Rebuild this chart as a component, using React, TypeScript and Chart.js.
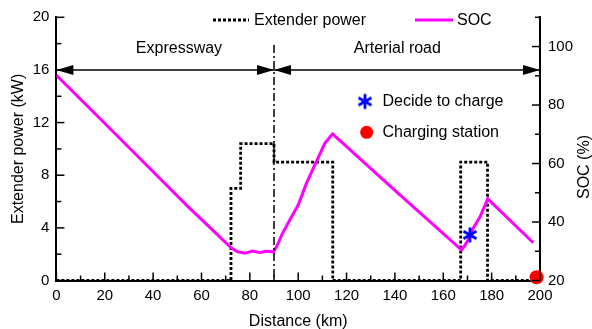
import React, { useEffect, useRef } from 'react';
import { Chart, registerables } from 'chart.js';

Chart.register(...registerables);

// ---- data ----
const extenderDistance = [0, 72.2, 72.2, 76.2, 76.2, 90, 90, 114.3, 114.3, 167.2, 167.2, 178.3, 178.3, 200];
const extenderPower = [0, 0, 7, 7, 10.4, 10.4, 9, 9, 0, 0, 9, 9, 0, 0];

const socDistance = [0, 18, 36, 54, 72.5, 75, 78, 81, 84, 87, 89.7, 91.2, 93.2, 96.5, 100, 103.4, 106.9, 111, 114.2, 140, 167.6, 169.0, 170.4, 172.4, 175.2, 176.3, 178.4, 197.2];
const socValues = [90.2, 75.4, 60.5, 45.6, 31.0, 29.8, 29.3, 30.1, 29.6, 30.0, 29.8, 31.8, 35.6, 40.7, 45.8, 53.2, 59.5, 66.9, 70.1, 50.8, 30.4, 32.1, 34.1, 37.9, 41.8, 43.9, 47.9, 32.9];

const decideDistance = [171.0];
const decideSoc = [35.6];
const stationDistance = [198.6];
const stationSoc = [21.1];

const sectionBounds = [0, 90, 200];
const sectionLabels = ['Expressway', 'Arterial road'];
const sectionLabelX = [50.7, 141.0];
const sectionArrowLevel = 16;

const FONT = "'Liberation Sans', Arial, Helvetica, sans-serif";

function makeAsterisk(): HTMLCanvasElement {
  const c = document.createElement('canvas');
  c.width = 20;
  c.height = 20;
  const g = c.getContext('2d')!;
  g.strokeStyle = '#0000ff';
  g.lineWidth = 2.8;
  g.lineCap = 'butt';
  const r = 7.5;
  for (let k = 0; k < 3; k++) {
    const a = Math.PI / 2 + (k * Math.PI) / 3;
    g.beginPath();
    g.moveTo(10 + r * Math.cos(a), 10 + r * Math.sin(a));
    g.lineTo(10 - r * Math.cos(a), 10 - r * Math.sin(a));
    g.stroke();
  }
  return c;
}

export default function App() {
  const ref = useRef<HTMLCanvasElement>(null);

  useEffect(() => {
    const canvas = ref.current!;
    const star = makeAsterisk();

    const arrowHead = (ctx: CanvasRenderingContext2D, tipX: number, yy: number, dir: number) => {
      const len = 17;
      const hh = 5;
      ctx.beginPath();
      ctx.moveTo(tipX, yy);
      ctx.lineTo(tipX - dir * len, yy - hh);
      ctx.lineTo(tipX - dir * len, yy + hh);
      ctx.closePath();
      ctx.fill();
    };

    const decor = {
      id: 'decor',
      afterDraw(chart: any) {
        const { ctx, chartArea } = chart;
        const xs = chart.scales.x;
        const ys = chart.scales.y;
        const ys1 = chart.scales.y1;
        ctx.save();
        ctx.strokeStyle = '#000';
        ctx.fillStyle = '#000';
        ctx.lineWidth = 1.5;
        // inward ticks
        for (let v = 0; v <= 200; v += 10) {
          const px = xs.getPixelForValue(v);
          const len = v % 20 === 0 ? 8 : 5;
          ctx.beginPath();
          ctx.moveTo(px, chartArea.bottom);
          ctx.lineTo(px, chartArea.bottom - len);
          ctx.stroke();
        }
        for (let v = 0; v <= 20; v += 2) {
          const py = ys.getPixelForValue(v);
          const len = v % 4 === 0 ? 8 : 5;
          ctx.beginPath();
          ctx.moveTo(chartArea.left, py);
          ctx.lineTo(chartArea.left + len, py);
          ctx.stroke();
        }
        for (let v = 20; v <= 110; v += 10) {
          const py = ys1.getPixelForValue(v);
          const len = v % 20 === 0 ? 8 : 5;
          ctx.beginPath();
          ctx.moveTo(chartArea.right, py);
          ctx.lineTo(chartArea.right - len, py);
          ctx.stroke();
        }

        // section divider (dash-dot)
        const divX = xs.getPixelForValue(sectionBounds[1]);
        ctx.setLineDash([8, 3, 2, 3]);
        ctx.lineWidth = 1.5;
        ctx.beginPath();
        ctx.moveTo(divX, ys.getPixelForValue(17.9));
        ctx.lineTo(divX, chartArea.bottom);
        ctx.stroke();
        ctx.setLineDash([]);

        // section arrows
        const ay = ys.getPixelForValue(sectionArrowLevel);
        for (let i = 0; i < sectionLabels.length; i++) {
          const a = xs.getPixelForValue(sectionBounds[i]);
          const b = xs.getPixelForValue(sectionBounds[i + 1]);
          ctx.lineWidth = 1.6;
          ctx.beginPath();
          ctx.moveTo(a, ay);
          ctx.lineTo(b, ay);
          ctx.stroke();
          arrowHead(ctx, a, ay, -1);
          arrowHead(ctx, b, ay, 1);
          ctx.font = `16px ${FONT}`;
          ctx.textAlign = 'center';
          ctx.textBaseline = 'middle';
          ctx.fillText(sectionLabels[i], xs.getPixelForValue(sectionLabelX[i]), ys.getPixelForValue(17.6));
        }

        // legend
        ctx.font = `16px ${FONT}`;
        ctx.textAlign = 'left';
        ctx.textBaseline = 'middle';
        ctx.lineWidth = 2.8;
        ctx.setLineDash([3, 2]);
        ctx.beginPath();
        ctx.moveTo(213, 20);
        ctx.lineTo(249, 20);
        ctx.stroke();
        ctx.setLineDash([]);
        ctx.fillText('Extender power', 254, 20.5);

        ctx.strokeStyle = '#ff00ff';
        ctx.lineWidth = 3;
        ctx.beginPath();
        ctx.moveTo(415, 20);
        ctx.lineTo(453, 20);
        ctx.stroke();
        ctx.fillStyle = '#000';
        ctx.fillText('SOC', 457, 20.5);

        // marker annotations
        ctx.drawImage(star, 365 - 10, 101.5 - 10);
        ctx.fillText('Decide to charge', 382.5, 101.5);
        ctx.fillStyle = '#ff0000';
        ctx.beginPath();
        ctx.arc(366.7, 132.3, 6.5, 0, Math.PI * 2);
        ctx.fill();
        ctx.fillStyle = '#000';
        ctx.fillText('Charging station', 382.5, 132.5);

        // right axis title
        ctx.save();
        ctx.translate(585, 167);
        ctx.rotate(-Math.PI / 2);
        ctx.textAlign = 'center';
        ctx.textBaseline = 'middle';
        ctx.fillText('SOC (%)', 0, 0);
        ctx.restore();

        ctx.restore();
      },
    };

    const tickFont = { size: 15, family: FONT };
    const titleFont = { size: 16, family: FONT };

    const chart = new Chart(canvas, {
      type: 'line',
      data: {
        datasets: [
          {
            label: 'Decide to charge',
            data: decideDistance.map((x, i) => ({ x, y: decideSoc[i] })),
            yAxisID: 'y1',
            showLine: false,
            pointStyle: star as any,
            pointRadius: 10,
            clip: false as any,
            order: 0,
          },
          {
            label: 'Charging station',
            data: stationDistance.map((x, i) => ({ x, y: stationSoc[i] })),
            yAxisID: 'y1',
            showLine: false,
            pointStyle: 'circle',
            pointRadius: 7,
            backgroundColor: '#ff0000',
            borderColor: '#ff0000',
            borderWidth: 0,
            clip: false as any,
            order: 0,
          },
          {
            label: 'SOC',
            data: socDistance.map((x, i) => ({ x, y: socValues[i] })),
            yAxisID: 'y1',
            borderColor: '#ff00ff',
            borderWidth: 3,
            pointRadius: 0,
            tension: 0,
            fill: false,
            order: 1,
          },
          {
            label: 'Extender power',
            data: extenderDistance.map((x, i) => ({ x, y: extenderPower[i] })),
            yAxisID: 'y',
            borderColor: '#000000',
            borderWidth: 2.8,
            borderDash: [3, 2],
            borderCapStyle: 'butt',
            pointRadius: 0,
            tension: 0,
            fill: false,
            clip: false as any,
            order: 2,
          },
        ],
      },
      options: {
        animation: false,
        responsive: false,
        events: [],
        layout: { padding: { top: 17.3, left: 0, right: 0, bottom: 0 } },
        plugins: {
          legend: { display: false },
          tooltip: { enabled: false },
        },
        scales: {
          x: {
            type: 'linear',
            position: 'bottom',
            min: 0,
            max: 200,
            ticks: { stepSize: 20, padding: 6, font: tickFont, color: '#000', maxRotation: 0 },
            grid: { display: false, drawTicks: false },
            border: { display: true, color: '#000', width: 2 },
            title: { display: true, text: 'Distance (km)', font: titleFont, color: '#000', padding: { top: 0, bottom: -2 } },
            afterFit: (s: any) => {
              s.height = 48.5;
            },
          },
          y: {
            type: 'linear',
            position: 'left',
            min: 0,
            max: 20,
            ticks: { stepSize: 4, padding: 7, font: tickFont, color: '#000' },
            grid: { display: false, drawTicks: false },
            border: { display: true, color: '#000', width: 2 },
            title: { display: true, text: 'Extender power (kW)', font: titleFont, color: '#000', padding: { top: 8.5, bottom: 0 } },
            afterFit: (s: any) => {
              s.width = 56.4;
            },
          },
          y1: {
            type: 'linear',
            position: 'right',
            min: 20,
            max: 110,
            ticks: { stepSize: 20, includeBounds: false, padding: 8, font: tickFont, color: '#000' },
            grid: { display: false, drawTicks: false },
            border: { display: true, color: '#000', width: 2 },
            afterFit: (s: any) => {
              s.width = 52;
            },
          },
        },
      } as any,
      plugins: [decor],
    });

    return () => chart.destroy();
  }, []);

  return (
    <canvas
      ref={ref}
      width={592}
      height={329}
      style={{ position: 'absolute', left: 0, top: 0, display: 'block', background: '#fff' }}
    />
  );
}
